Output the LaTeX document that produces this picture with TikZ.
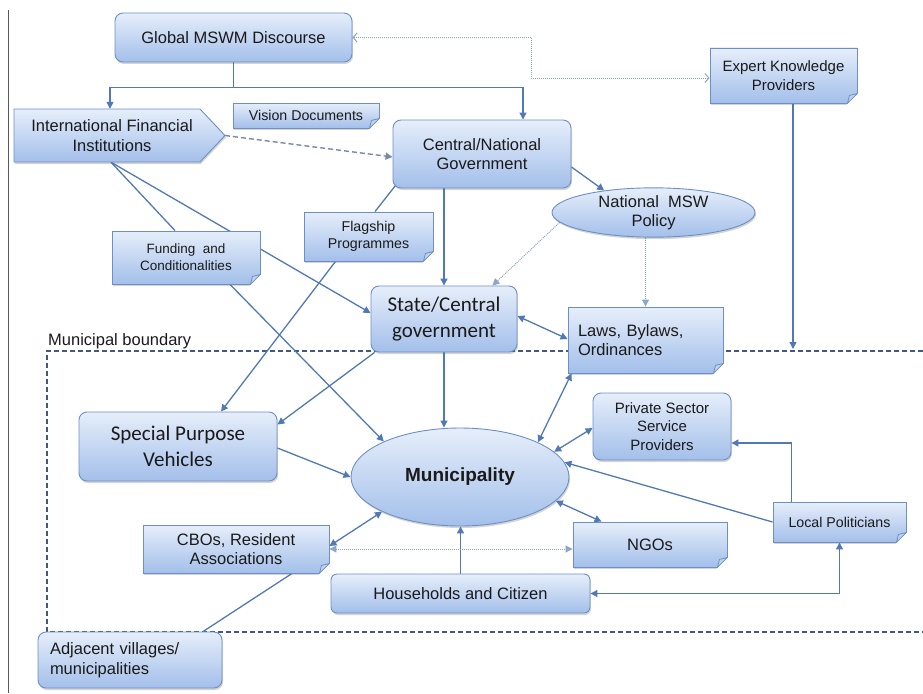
\documentclass[tikz,border=0pt]{standalone}
\usepackage{fontspec}
\setmainfont{Liberation Sans}
\newfontfamily\calfont{Carlito}
\usetikzlibrary{arrows.meta,shapes.geometric,shadows,calc,backgrounds}
\definecolor{topc}{HTML}{E6EEFA}
\definecolor{botc}{HTML}{A3BFEA}
\definecolor{bordc}{HTML}{6E8FC6}
\definecolor{lnc}{HTML}{5079B6}
\definecolor{dotc}{HTML}{8CA5C9}
\definecolor{bndc}{HTML}{3E5A82}
\definecolor{foldc}{HTML}{BFD1EF}
\definecolor{txtc}{HTML}{1A1A1A}
\newcommand\fA{\fontsize{16.5}{19.5}\selectfont}
\newcommand\fB{\fontsize{14.2}{17.5}\selectfont}
\newcommand\fE{\fontsize{15}{18.5}\selectfont}
\newcommand\fF{\fontsize{13.5}{17.3}\selectfont}
\newcommand\fC{\calfont\fontsize{21}{26}\selectfont}
\newcommand\fM{\fontsize{19}{22}\selectfont\bfseries}
\newcommand\foldcorner[1]{%
  \fill[white] ($(#1.south east)+(1.5,1.5)$) -- ++(-12.5,0) -- ++(12.5,-12.5) -- cycle;
  \filldraw[fill=foldc, draw=bordc, line width=0.8pt, line join=round]
    ($(#1.south east)+(-10,0)$) -- ($(#1.south east)+(0,-10)$) -- ($(#1.south east)+(-8,-8)$) -- cycle;}
\tikzset{
  box/.style={draw=bordc, line width=0.9pt, top color=topc, bottom color=botc, text=txtc,
    align=center, inner sep=2pt, font=\fA,
    drop shadow={shadow xshift=1pt, shadow yshift=-2pt, opacity=0.28, fill=black!60}},
  rbox/.style={box, rounded corners=8pt},
  nbox/.style={box},
  ebox/.style={box, ellipse, inner sep=0pt},
  wh/.style 2 args={minimum width=#1pt, minimum height=#2pt},
  ln/.style={draw=lnc, line width=1.3pt},
  tip/.style={-{Triangle[length=7pt,width=7pt]}},
  tips/.style={{Triangle[length=7pt,width=7pt]}-{Triangle[length=7pt,width=7pt]}},
  opentips/.style={{Straight Barb[length=4pt,width=9pt]}-{Straight Barb[length=4pt,width=9pt]}},
  dotln/.style={draw=dotc, line width=1pt, dash pattern=on 1pt off 1pt},
  dashln/.style={draw=dotc!85!black, line width=1.4pt, dash pattern=on 5pt off 3pt},
  bnd/.style={draw=bndc, line width=1.4pt, dash pattern=on 5pt off 3pt}
}
\begin{document}
\begin{tikzpicture}[x=1pt,y=-1pt]
\useasboundingbox (0,0) rectangle (923,693);

% nodes
\node[rbox, wh={237}{49}] (gmd) at (233.5,37.5) {Global MSWM Discourse};
\path[box] (14,109) -- (200,109) -- (225,135.5) -- (200,162) -- (14,162) -- cycle;
\node[inner sep=0pt, wh={186}{53}, align=center, text=txtc, font=\fA] (ifi) at (112,135.5) {International Financial\\Institutions};
\coordinate (ifitip) at (225,135.5);
\node[nbox, wh={146}{25}, font=\fB] (vis) at (306,115.5) {Vision Documents};
\node[rbox, wh={178}{68}] (cng) at (482,154) {Central/National\\Government};
\node[nbox, wh={147}{55}, font=\fE] (ekp) at (783.5,75.5) {Expert Knowledge\\Providers};
\node[ebox, wh={203}{49}] (pol) at (653.5,212.5) {National\ \ MSW\\Policy};
\node[nbox, wh={129}{49}, font=\fB] (fla) at (368.5,236.5) {Flagship\\Programmes};
\node[nbox, wh={148}{53}, font=\fF] (fun) at (186,257.5) {Funding\ \ and\\Conditionalities};
\node[rbox, wh={146}{66}, font=\fC] (sta) at (444,319) {State/Central\\government};
\node[nbox, wh={155}{66}, align=left, text width=135pt] (law) at (645.5,340) {Laws, Bylaws,\\Ordinances};
\node[rbox, wh={138}{67}, font=\fE] (pss) at (662,426.5) {Private Sector\\Service\\Providers};
\node[nbox, wh={133}{40}, font=\fB] (lop) at (839.5,522) {Local Politicians};
\node[nbox, wh={154}{45}] (ngo) at (650,544.5) {NGOs};
\node[box, rounded corners=6pt, wh={259}{39}] (hou) at (460.5,593.5) {Households and Citizen};
\node[ebox, wh={218}{98}, font=\fM] (mun) at (460,477) {Municipality};
\node[nbox, wh={186}{48}] (cbo) at (236,549) {CBOs, Resident\\Associations};
\node[rbox, wh={198}{69}, font=\fC] (spv) at (178,446.5) {Special Purpose\\Vehicles};
\node[rbox, wh={184}{56}, align=left, text width=160pt] (adj) at (130,660) {Adjacent villages/\\municipalities};
\node[anchor=base west, inner sep=0pt, text=txtc, font=\fA] (mbl) at (48,345) {Municipal boundary};

\foreach \n in {vis,ekp,fla,fun,law,lop,ngo,cbo} {\foldcorner{\n}}

\begin{scope}[on background layer]
  \draw[bnd] (923,351) -- (47,351) -- (47,632) -- (923,632);
  \draw[black!65, line width=1.2pt] (8.5,10) -- (8.5,693);
  \coordinate (j1) at ($(gmd.south)+(0,25)$);
  \coordinate (ebnd) at (793,349);
  \draw[ln,tip] (gmd.south) -- (j1) -| ($(ifi.north)+(-2,0)$);
  \draw[ln,tip] (j1) -| ($(cng.north)+(41,0)$);
  \draw[dotln,opentips] (gmd.east) -- ++(179,0) |- ($(ekp.west)+(0,2.5)$);
  \draw[dashln,tip] (ifitip) -- ($(cng.west)+(0,3)$);
  \draw[ln] ($(ifi.south)+(-1,0)$) -- ($(fun.north)+(-11,0)$);
  \draw[ln,tip] ($(ifi.south)+(-1,0)$) -- ($(sta.west)+(0,-6)$);
  \draw[ln,tip] ($(fun.south)+(44,0)$) -- (mun.155);
  \draw[ln,tip] (sta.north |- cng.south) -- (sta.north);
  \draw[ln] ($(cng.south west)+(3,-3)$) -- ($(fla.north)+(6.5,0)$);
  \draw[ln,tip] ($(fla.south)+(-33,0)$) -- ($(spv.north)+(43,0)$);
  \draw[ln,tip] ($(cng.east)+(0,13)$) -- (pol.156);
  \draw[dotln,tip] (pol.186) -- ($(sta.north east)+(-25,0)$);
  \draw[dotln,tip] (pol.south -| law.north) -- (law.north);
  \draw[ln,tips] ($(sta.east)+(0,-3)$) -- ($(law.west)+(0,-1)$);
  \draw[ln,tip] (ebnd |- ekp.south) -- (ebnd);
  \draw[ln,tip] ($(sta.south west)+(4,0)$) -- ($(spv.north east)+(0,13)$);
  \draw[ln,tip] (sta.south) -- (sta.south |- mun.north);
  \draw[ln,tip] ($(spv.east)+(0,1.5)$) -- (mun.west);
  \draw[ln,tips] ($(law.south west)+(4,0)$) -- (mun.24);
  \draw[ln,tips] ($(pss.west)+(0,1.5)$) -- (mun.15);
  \draw[ln,tip] (lop.west) -- (mun.8);
  \draw[ln,tip] ($(lop.north west)+(19,0)$) |- ($(pss.east)+(0,16.5)$);
  \draw[ln,tips] (lop.south) |- (hou.east);
  \draw[ln,tips] (mun.-14) -- ($(ngo.north west)+(29,0)$);
  \draw[ln,tip] (hou.north) -- (hou.north |- mun.south);
  \draw[ln,tips] ($(cbo.east)+(0,-3)$) -- (mun.204);
  \draw[dotln,tips] (cbo.east) -- (cbo.east -| ngo.west);
  \draw[ln] ($(cbo.south)+(56,0)$) -- ($(adj.north)+(73,0)$);
\end{scope}
\end{tikzpicture}
\end{document}
